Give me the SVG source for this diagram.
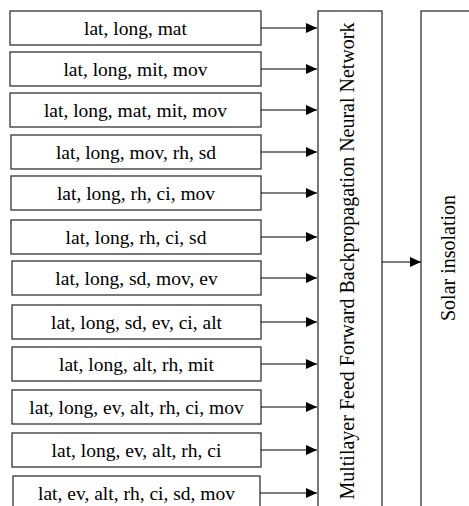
<svg xmlns="http://www.w3.org/2000/svg" width="469" height="506" viewBox="0 0 469 506">
<defs>
<marker id="ah" markerUnits="userSpaceOnUse" markerWidth="11" markerHeight="10" refX="11" refY="5" orient="auto">
<path d="M0,0 L11,5 L0,10 z" fill="#000"/>
</marker>
<style>
.box{fill:#fff;stroke:#333;stroke-width:1.3}
.t{font-size:19.5px;fill:#000;text-anchor:middle}
.v{font-size:20px;fill:#000;text-anchor:middle}
.c{stroke:#000;stroke-width:1.2;fill:none;marker-end:url(#ah)}
</style>
</defs>
<rect width="469" height="506" fill="#fff"/>
<g font-family="'Liberation Serif', 'Times New Roman', Times, serif">
<g id="in1"><rect class="box" x="10" y="11" width="251" height="34"/><text class="t" x="135.5" y="35">lat, long, mat</text></g>
<g id="in2"><rect class="box" x="10" y="52" width="251" height="34"/><text class="t" x="135.5" y="76">lat, long, mit, mov</text></g>
<g id="in3"><rect class="box" x="10" y="93" width="251" height="34"/><text class="t" x="135.5" y="117">lat, long, mat, mit, mov</text></g>
<g id="in4"><rect class="box" x="11" y="135" width="250" height="34"/><text class="t" x="136" y="159">lat, long, mov, rh, sd</text></g>
<g id="in5"><rect class="box" x="11" y="176" width="250" height="34"/><text class="t" x="136" y="200">lat, long, rh, ci, mov</text></g>
<g id="in6"><rect class="box" x="11" y="220" width="250" height="34"/><text class="t" x="136" y="244">lat, long, rh, ci, sd</text></g>
<g id="in7"><rect class="box" x="12" y="261" width="249" height="34"/><text class="t" x="136.5" y="285">lat, long, sd, mov, ev</text></g>
<g id="in8"><rect class="box" x="12" y="305" width="249" height="34"/><text class="t" x="136.5" y="329">lat, long, sd, ev, ci, alt</text></g>
<g id="in9"><rect class="box" x="12" y="347" width="249" height="34"/><text class="t" x="136.5" y="371">lat, long, alt, rh, mit</text></g>
<g id="in10"><rect class="box" x="12" y="390" width="249" height="34"/><text class="t" x="136.5" y="414">lat, long, ev, alt, rh, ci, mov</text></g>
<g id="in11"><rect class="box" x="12" y="433" width="249" height="34"/><text class="t" x="136.5" y="457">lat, long, ev, alt, rh, ci</text></g>
<g id="in12"><rect class="box" x="13" y="476" width="247" height="40"/><text class="t" x="136.5" y="500">lat, ev, alt, rh, ci, sd, mov</text></g>
<g id="nn"><rect class="box" x="318" y="11" width="64" height="510"/><text class="v" transform="translate(354,261) rotate(-90)">Multilayer Feed Forward Backpropagation Neural Network</text></g>
<g id="solar"><rect class="box" x="421" y="11" width="60" height="510"/><text class="v" transform="translate(455,258) rotate(-90)">Solar insolation</text></g>
</g>
<g id="connectors">
<path class="c" d="M261,28 H317"/>
<path class="c" d="M261,69 H317"/>
<path class="c" d="M261,110 H317"/>
<path class="c" d="M261,152 H317"/>
<path class="c" d="M261,193 H317"/>
<path class="c" d="M261,237 H317"/>
<path class="c" d="M261,278 H317"/>
<path class="c" d="M261,322 H317"/>
<path class="c" d="M261,364 H317"/>
<path class="c" d="M261,407 H317"/>
<path class="c" d="M261,450 H317"/>
<path class="c" d="M260,493 H317"/>
<path class="c" d="M382,262 H421"/>
</g>
</svg>
